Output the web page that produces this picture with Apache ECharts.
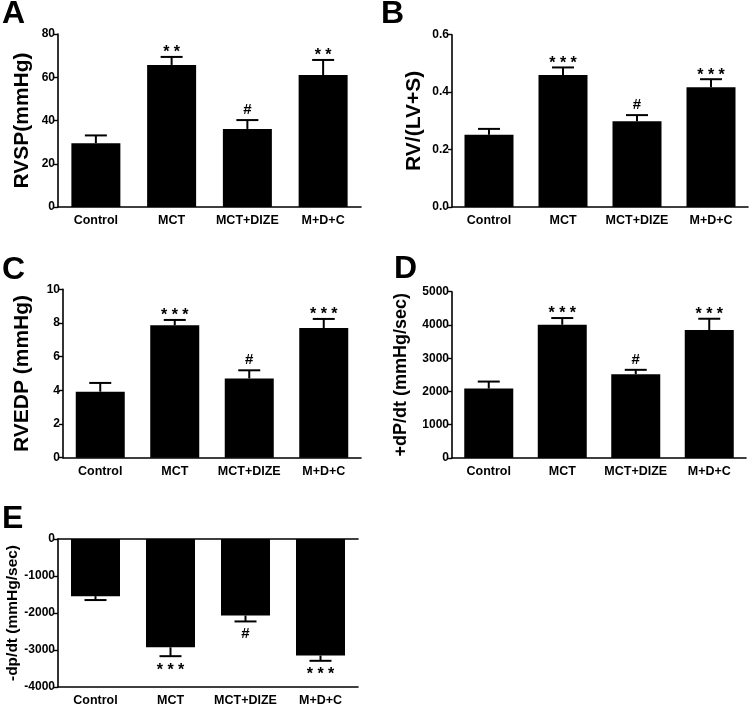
<!DOCTYPE html>
<html>
<head>
<meta charset="utf-8">
<script src="https://cdn.jsdelivr.net/npm/echarts@6/dist/echarts.min.js"></script>
<style>
html,body{margin:0;padding:0;background:#fff;}
#chart{width:754px;height:707px;}
</style>
</head>
<body>
<div id="chart"></div>
<script>
const categories = ['Control', 'MCT', 'MCT+DIZE', 'M+D+C'];

// Panel A: RVSP (mmHg)
const rvspMean = [29.5, 65.7, 36.1, 61.0];
const rvspErr = [3.6, 3.7, 4.1, 7.0];
const rvspMarks = ['', '* *', '#', '* *'];
const rvspTicks = [0, 20, 40, 60, 80];

// Panel B: RV/(LV+S)
const rvRatioMean = [0.252, 0.460, 0.299, 0.417];
const rvRatioErr = [0.020, 0.026, 0.021, 0.028];
const rvRatioMarks = ['', '* * *', '#', '* * *'];
const rvRatioTicks = [0.0, 0.2, 0.4, 0.6];

// Panel C: RVEDP (mmHg)
const rvedpMean = [3.92, 7.86, 4.71, 7.70];
const rvedpErr = [0.52, 0.32, 0.48, 0.54];
const rvedpMarks = ['', '* * *', '#', '* * *'];
const rvedpTicks = [0, 2, 4, 6, 8, 10];

// Panel D: +dP/dt (mmHg/sec)
const dpdtMean = [2087, 4006, 2521, 3846];
const dpdtErr = [211, 202, 130, 341];
const dpdtMarks = ['', '* * *', '#', '* * *'];
const dpdtTicks = [0, 1000, 2000, 3000, 4000, 5000];

// Panel E: -dp/dt (mmHg/sec)
const negDpdtMean = [-1544, -2927, -2068, -3149];
const negDpdtErr = [106, 240, 160, 143];
const negDpdtMarks = ['', '* * *', '#', '* * *'];
const negDpdtTicks = [-4000, -3000, -2000, -1000, 0];

const FONT = '"Liberation Sans", Arial, Helvetica, sans-serif';

const panels = [
  {letter: 'A', name: 'RVSP(mmHg)', mean: rvspMean, err: rvspErr, marks: rvspMarks, ticks: rvspTicks,
   grid: {left: 58, top: 34, width: 303, height: 173}, nameSize: 21, nameGap: 25,
   letterPos: {left: 2, top: -2}, fmt: v => String(v)},
  {letter: 'B', name: 'RV/(LV+S)', mean: rvRatioMean, err: rvRatioErr, marks: rvRatioMarks, ticks: rvRatioTicks,
   grid: {left: 452, top: 34.7, width: 296, height: 172.3}, nameSize: 21, nameGap: 27,
   letterPos: {left: 381, top: -2}, fmt: v => v.toFixed(1)},
  {letter: 'C', name: 'RVEDP (mmHg)', mean: rvedpMean, err: rvedpErr, marks: rvedpMarks, ticks: rvedpTicks,
   grid: {left: 63, top: 289.3, width: 298, height: 168.4}, nameSize: 21, nameGap: 30,
   letterPos: {left: 2, top: 254}, fmt: v => String(v)},
  {letter: 'D', name: '+dP/dt (mmHg/sec)', mean: dpdtMean, err: dpdtErr, marks: dpdtMarks, ticks: dpdtTicks,
   grid: {left: 452, top: 291.7, width: 294, height: 166.3}, nameSize: 18, nameGap: 42,
   letterPos: {left: 394, top: 253}, fmt: v => String(v)},
  {letter: 'E', name: '-dp/dt (mmHg/sec)', mean: negDpdtMean, err: negDpdtErr, marks: negDpdtMarks, ticks: negDpdtTicks,
   grid: {left: 58, top: 539, width: 300, height: 150.3}, nameSize: 15.5, nameGap: 34,
   letterPos: {left: 2, top: 503}, fmt: v => String(v)}
];

const grids = [], xAxes = [], yAxes = [], series = [], titles = [];

panels.forEach((p, i) => {
  grids.push(Object.assign({containLabel: false}, p.grid));
  const negative = p.mean[0] < 0;
  const tmin = p.ticks[0], tmax = p.ticks[p.ticks.length - 1];
  const interval = p.ticks[1] - p.ticks[0];
  const axisLineStyle = {color: '#000', width: 1.6};
  xAxes.push({
    type: 'category', gridIndex: i, data: categories,
    position: 'bottom',
    axisLine: {show: true, onZero: false, lineStyle: axisLineStyle},
    axisTick: {show: false},
    axisLabel: {color: '#000', fontFamily: FONT, fontWeight: 'bold', fontSize: 12.5, margin: 7, interval: 0},
    splitLine: {show: false}
  });
  yAxes.push({
    type: 'value', gridIndex: i, min: tmin, max: tmax, interval: interval,
    name: p.name, nameLocation: 'middle', nameRotate: 90, nameGap: p.nameGap,
    nameTextStyle: {color: '#000', fontFamily: FONT, fontWeight: 'bold', fontSize: p.nameSize},
    axisLine: {show: true, lineStyle: axisLineStyle},
    axisTick: {show: true, length: 4, lineStyle: {color: '#000', width: 1.4}},
    axisLabel: {color: '#000', fontFamily: FONT, fontWeight: 'bold', fontSize: 12, margin: 3,
      formatter: p.fmt},
    splitLine: {show: false}
  });
  titles.push({
    text: p.letter, left: p.letterPos.left, top: p.letterPos.top, padding: 0,
    textStyle: {color: '#000', fontFamily: FONT, fontWeight: 'bold', fontSize: 32}
  });
  series.push({
    type: 'bar', xAxisIndex: xAxes.length - 1, yAxisIndex: i,
    data: p.mean, barWidth: 49,
    itemStyle: {color: '#000'}, silent: true, animation: false
  });
  const marks = p.marks;
  series.push({
    type: 'custom', xAxisIndex: xAxes.length - 1, yAxisIndex: i,
    data: p.mean.map((m, k) => [k, m, p.err[k]]),
    animation: false, silent: true, z: 5,
    renderItem: function (params, api) {
      const k = api.value(0), m = api.value(1), e = api.value(2);
      const dir = m < 0 ? -1 : 1;
      const base = api.coord([k, m]);
      const end = api.coord([k, m + dir * e]);
      const half = 11;
      const children = [
        {type: 'line', shape: {x1: base[0], y1: base[1], x2: end[0], y2: end[1]},
         style: {stroke: '#000', lineWidth: 2}},
        {type: 'line', shape: {x1: end[0] - half, y1: end[1], x2: end[0] + half, y2: end[1]},
         style: {stroke: '#000', lineWidth: 2}}
      ];
      const t = marks[params.dataIndex];
      if (t) {
        const isHash = t === '#';
        const off = dir > 0 ? (isHash ? -10 : -7) : (isHash ? 12 : 11);
        children.push({
          type: 'text',
          style: {
            text: t, x: end[0], y: end[1] + off + (isHash ? 0 : (dir > 0 ? 3 : 3)),
            align: 'center', verticalAlign: 'middle',
            fill: '#000', fontFamily: FONT, fontWeight: 'bold', fontSize: isHash ? 15 : 16
          }
        });
      }
      return {type: 'group', children: children};
    }
  });
  if (negative) {
    // top line at zero for the negative panel
    xAxes.push({
      type: 'category', gridIndex: i, data: categories, position: 'top',
      axisLine: {show: true, onZero: false, lineStyle: axisLineStyle},
      axisTick: {show: false}, axisLabel: {show: false}, splitLine: {show: false}
    });
  }
});

const chart = echarts.init(document.getElementById('chart'), null, {renderer: 'canvas'});
chart.setOption({
  backgroundColor: '#fff',
  animation: false,
  title: titles,
  grid: grids,
  xAxis: xAxes,
  yAxis: yAxes,
  series: series
});
</script>
</body>
</html>
